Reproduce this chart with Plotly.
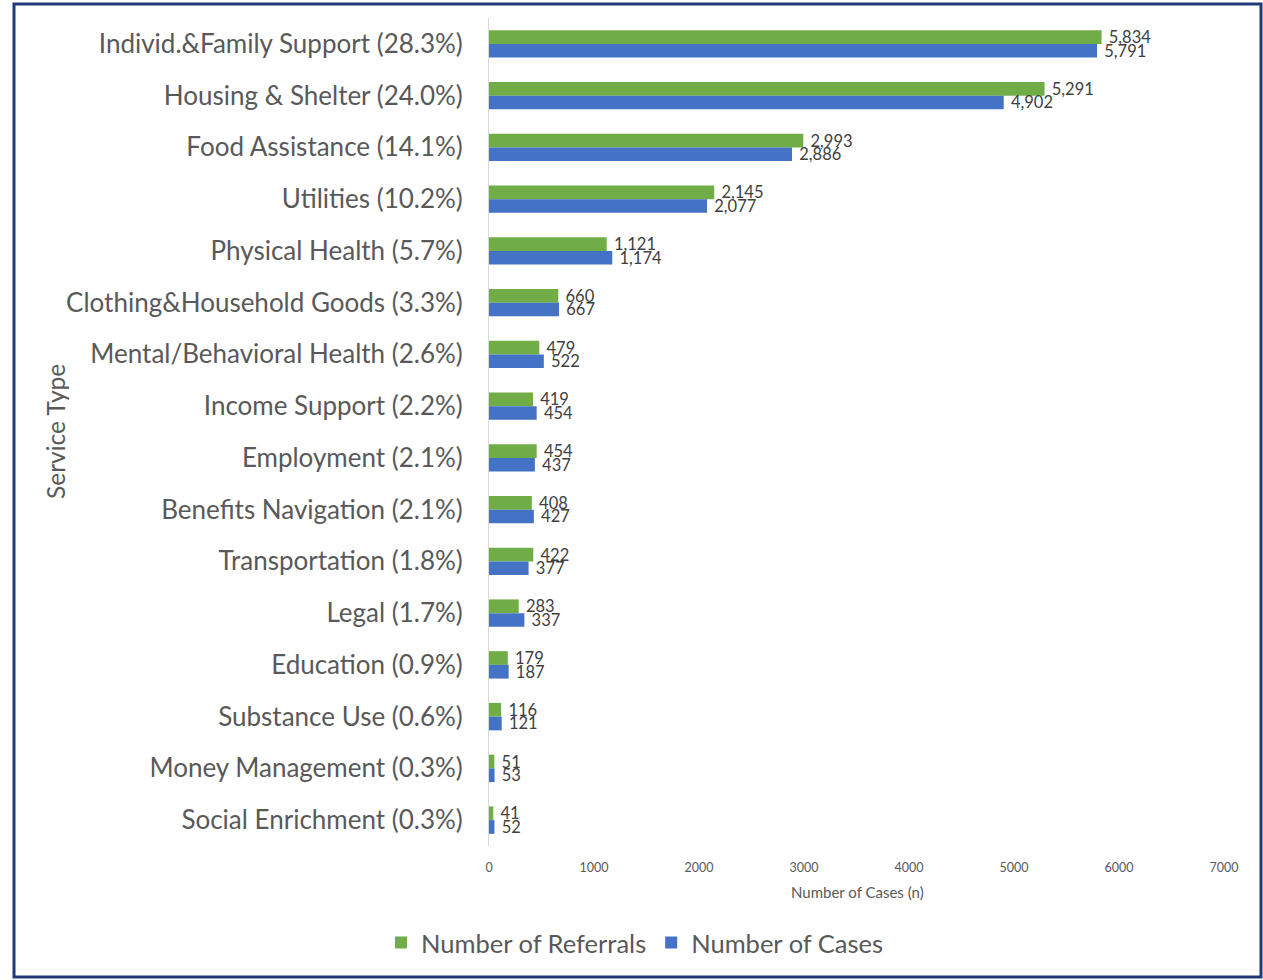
import plotly.graph_objects as go

# Service categories with share of total, top to bottom
categories = [
    "Individ.&Family Support (28.3%)",
    "Housing & Shelter (24.0%)",
    "Food Assistance (14.1%)",
    "Utilities (10.2%)",
    "Physical Health (5.7%)",
    "Clothing&Household Goods (3.3%)",
    "Mental/Behavioral Health (2.6%)",
    "Income Support (2.2%)",
    "Employment (2.1%)",
    "Benefits Navigation (2.1%)",
    "Transportation (1.8%)",
    "Legal (1.7%)",
    "Education (0.9%)",
    "Substance Use (0.6%)",
    "Money Management (0.3%)",
    "Social Enrichment (0.3%)",
]
referrals = [5834, 5291, 2993, 2145, 1121, 660, 479, 419, 454, 408, 422, 283, 179, 116, 51, 41]
cases = [5791, 4902, 2886, 2077, 1174, 667, 522, 454, 437, 427, 377, 337, 187, 121, 53, 52]
x_ticks = [0, 1000, 2000, 3000, 4000, 5000, 6000, 7000]

FONT = "Lato"
GREEN = "#70AD47"
BLUE = "#4472C4"
TXT = "#595959"
NBSP = "\u00a0"

fig = go.Figure()
for name, vals, color in [("Number of Referrals", referrals, GREEN),
                          ("Number of Cases", cases, BLUE)]:
    fig.add_trace(go.Bar(
        y=categories, x=vals, orientation="h", name=name,
        marker=dict(color=color, line=dict(width=0)),
        text=[f"{NBSP}{v:,}" for v in vals], textposition="outside",
        constraintext="none",
        textfont=dict(family=FONT, size=16.5, color="#404040"), cliponaxis=False,
    ))

W, H = 1263, 980
L, R, T, B = 489, 39, 18, 134
pw, ph = W - L - R, H - T - B

def px_x(p):
    return (p - L) / pw

def px_y(p):
    return (H - B - p) / ph

fig.update_layout(
    width=W, height=H,
    margin=dict(l=L, r=R, t=T, b=B),
    paper_bgcolor="white", plot_bgcolor="white",
    barmode="group", bargap=0.47, bargroupgap=0,
    font=dict(family=FONT, color=TXT),
    showlegend=True,
    legend=dict(
        orientation="h", x=px_x(635), y=px_y(943),
        xanchor="center", yanchor="middle",
        font=dict(family=FONT, size=25.5, color=TXT),
        itemwidth=30, traceorder="normal",
    ),
    xaxis=dict(
        range=[0, 7000], tickvals=x_ticks, ticktext=[str(v) for v in x_ticks],
        showgrid=False, zeroline=False, showline=False,
        ticks="outside", ticklen=10, tickcolor="rgba(0,0,0,0)",
        tickfont=dict(family=FONT, size=12.5, color=TXT),
    ),
    yaxis=dict(
        categoryorder="array", categoryarray=categories, autorange="reversed",
        showgrid=False, zeroline=False, showline=True, linecolor="#D9D9D9", linewidth=1,
        ticks="outside", ticklen=20, tickcolor="rgba(0,0,0,0)",
        tickfont=dict(family=FONT, size=26, color=TXT),
    ),
    annotations=[
        dict(text="Number of Cases (n)", xref="paper", yref="paper",
             x=px_x(857), y=px_y(892), showarrow=False,
             xanchor="center", yanchor="middle",
             font=dict(family=FONT, size=15, color=TXT)),
        dict(text="Service Type", xref="paper", yref="paper",
             x=px_x(55), y=px_y(432), showarrow=False, textangle=-90,
             xanchor="center", yanchor="middle",
             font=dict(family=FONT, size=24.5, color=TXT)),
    ],
    shapes=[
        dict(type="rect", xref="paper", yref="paper",
             x0=px_x(14), x1=px_x(1261), y0=px_y(977), y1=px_y(4),
             line=dict(color="#1F3A7A", width=3), fillcolor="rgba(0,0,0,0)",
             layer="above"),
    ],
)

fig.write_html("out.html")
